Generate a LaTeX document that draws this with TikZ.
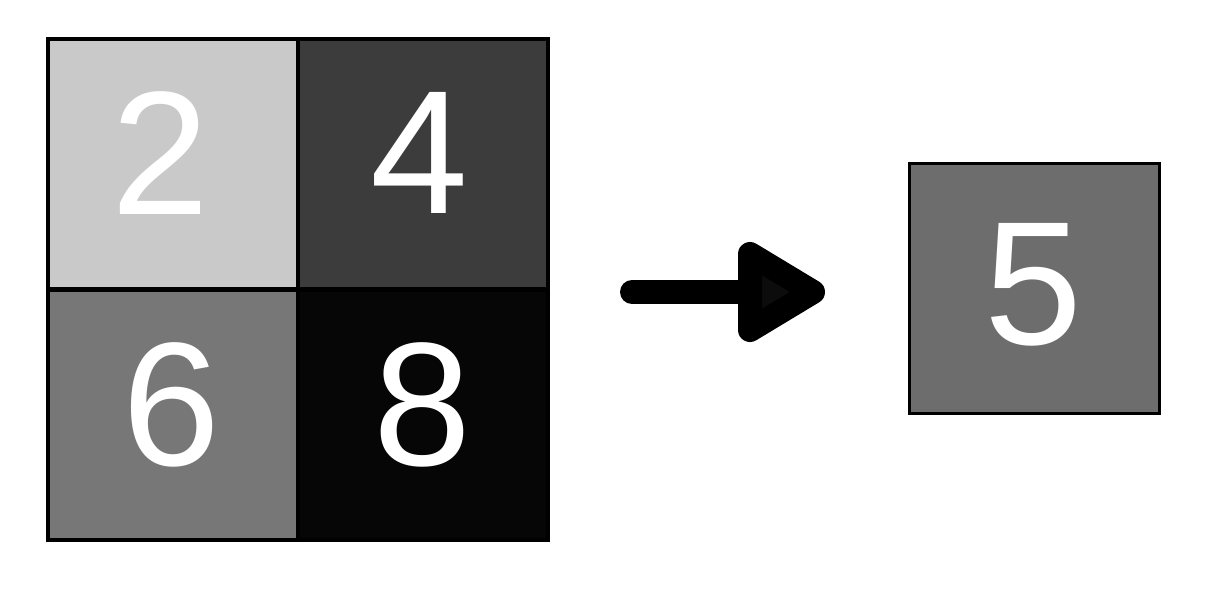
\documentclass[tikz,border=0pt]{standalone}
\usepackage{fontspec}
\setmainfont{Liberation Sans}
\definecolor{cA}{HTML}{C9C9C9}
\definecolor{cB}{HTML}{3D3C3D}
\definecolor{cC}{HTML}{777777}
\definecolor{cD}{HTML}{060606}
\definecolor{cE}{HTML}{6D6D6D}
\definecolor{headfill}{HTML}{0C0C0C}
\tikzset{
  cell/.style={draw=black, line width=4pt, minimum size=250pt, inner sep=0pt, outer sep=0pt},
  num/.style={text=white, font=\fontsize{176}{176}\selectfont, inner sep=0pt},
  shaft/.style={line width=24pt, line cap=round},
  head/.style={draw=black, fill=headfill, line width=24pt, line join=round}
}
\begin{document}
\begin{tikzpicture}[x=1pt,y=-1pt]
\useasboundingbox (0,0) rectangle (1210,600);
\node[cell, fill=cA] (a) at (172.5,163.5) {};
\node[cell, fill=cB] (b) at (422.5,163.5) {};
\node[cell, fill=cC] (c) at (172.5,414.5) {};
\node[cell, fill=cD] (d) at (422.5,414.5) {};
\node[cell, line width=3pt, fill=cE] (e) at (1034,288) {};
\node[num] (ta) at (160,153.5) {2};
\node[num] (tb) at (419.5,153) {4};
\node[num] (tc) at (171.5,405) {6};
\node[num] (td) at (422,405) {8};
\node[num] (te) at (1033,284.5) {5};
\coordinate (s) at (632,292);
\coordinate (h1) at (750,254);
\coordinate (h2) at (750,330);
\coordinate (h3) at (813,292);
\coordinate (hb) at (750,292);
\draw[shaft] (s) -- (hb);
\draw[head] (h1) -- (h3) -- (h2) -- cycle;
\end{tikzpicture}
\end{document}
